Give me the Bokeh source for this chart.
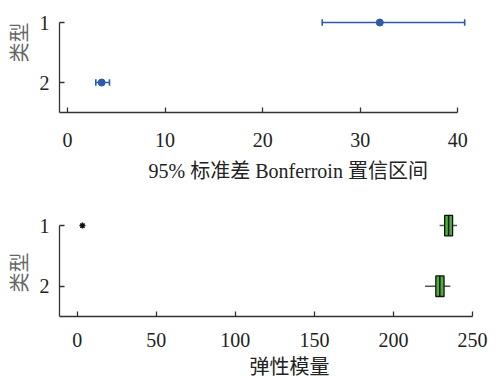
import math
from bokeh.plotting import figure
from bokeh.models import Range1d, FixedTicker, Title
from bokeh.layouts import column
from bokeh.embed import file_html
from bokeh.resources import INLINE

# ---- data ----
types = [1, 2]
ci_center = [32.0, 3.5]
ci_low = [26.1, 2.9]
ci_high = [40.7, 4.3]

box_q1 = [232.4, 226.8]
box_med = [234.9, 229.3]
box_q3 = [237.4, 232.0]
whisk_lo = [229.2, 220.0]
whisk_hi = [240.2, 236.0]
outlier_x = [3.3]
outlier_type = [1]

top_ticks = [0, 10, 20, 30, 40]
bot_ticks = [0, 50, 100, 150, 200, 250]

SERIF = "Liberation Serif, Noto Sans CJK SC"
AX = "#333333"
BLUE = "#2a5caa"
GREEN = "#4caf3a"


def style(p, xticks, xbounds, tick_standoff):
    p.grid.visible = False
    p.outline_line_color = None
    p.background_fill_color = "white"
    for ax in (p.xaxis[0], p.yaxis[0]):
        ax.axis_line_color = AX
        ax.axis_line_width = 1.3
        ax.major_tick_line_color = AX
        ax.major_tick_line_width = 1.3
        ax.major_tick_in = 5
        ax.major_tick_out = 0
        ax.minor_tick_line_color = None
        ax.major_label_text_font = SERIF
        ax.major_label_text_font_size = "20px"
        ax.major_label_text_color = "#222222"
    p.xaxis[0].ticker = FixedTicker(ticks=xticks)
    p.xaxis[0].bounds = xbounds
    p.xaxis[0].major_label_standoff = tick_standoff
    p.yaxis[0].ticker = FixedTicker(ticks=types)
    p.yaxis[0].bounds = (1, 2.5)
    p.yaxis[0].major_label_standoff = 10


def add_title(p, side, text, offset, standoff, color):
    t = Title(text=text, align="left", offset=offset, standoff=standoff,
              text_font=SERIF, text_font_size="20px", text_font_style="normal",
              text_color=color)
    p.add_layout(t, side)


# ---- top: error bars ----
x0t, x1t = -0.82, 41.5
p1 = figure(width=498, height=196, output_backend="svg", toolbar_location=None,
            x_range=Range1d(x0t, x1t), y_range=Range1d(2.5, 0.9),
            min_border_left=59, min_border_right=26, min_border_top=16, min_border_bottom=84)
style(p1, top_ticks, (x0t, 40), 20)
p1.segment(x0=ci_low, x1=ci_high, y0=types, y1=types, line_color=BLUE, line_width=1.6)
p1.segment(x0=ci_low, x1=ci_low, y0=[t - 0.055 for t in types], y1=[t + 0.055 for t in types],
           line_color=BLUE, line_width=1.6)
p1.segment(x0=ci_high, x1=ci_high, y0=[t - 0.055 for t in types], y1=[t + 0.055 for t in types],
           line_color=BLUE, line_width=1.6)
p1.scatter(x=ci_center, y=types, size=7, fill_color=BLUE, line_color=BLUE)
add_title(p1, "below", "95% 标准差 Bonferroin 置信区间", 89, 16, "#222222")
add_title(p1, "left", "类型", 50, 11, "#666666")

# ---- bottom: box plot ----
x0b, x1b = -11.2, 250
p2 = figure(width=498, height=186, output_backend="svg", toolbar_location=None,
            x_range=Range1d(x0b, x1b), y_range=Range1d(2.5, 0.8),
            min_border_left=59, min_border_right=19, min_border_top=17, min_border_bottom=66)
style(p2, bot_ticks, (x0b, 250), 16)
p2.segment(x0=whisk_lo, x1=box_q1, y0=types, y1=types, line_color="#555555", line_width=1.5)
p2.segment(x0=box_q3, x1=whisk_hi, y0=types, y1=types, line_color="#555555", line_width=1.5)
p2.quad(left=box_q1, right=box_q3, bottom=[t + 0.17 for t in types], top=[t - 0.17 for t in types],
        fill_color=GREEN, line_color="#111111", line_width=1.3)
p2.segment(x0=box_med, x1=box_med, y0=[t - 0.17 for t in types], y1=[t + 0.17 for t in types],
           line_color="#111111", line_width=1.5)
p2.scatter(x=outlier_x, y=outlier_type, marker="asterisk", size=6, line_color="#111111", line_width=1.5)
add_title(p2, "below", "弹性模量", 190, 8, "#222222")
add_title(p2, "left", "类型", 24, 11, "#666666")

layout = column(p1, p2, spacing=0)
open("out.html", "w").write(file_html(layout, INLINE))
